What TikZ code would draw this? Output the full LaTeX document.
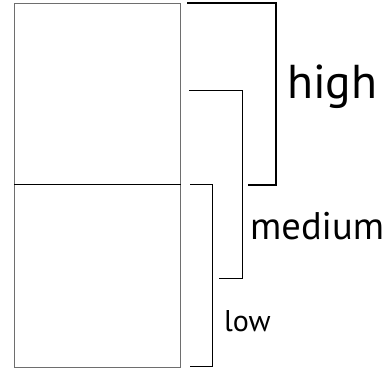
\documentclass[tikz,border=0pt]{standalone}
\usepackage{fontspec}
\setmainfont{PT Sans}
\definecolor{BoxGray}{HTML}{6E6E6E}

\begin{document}
\begin{tikzpicture}[x=1pt,y=1pt,
    level/.style={draw=BoxGray,line width=1pt,minimum width=166.5pt,inner sep=0pt,outer sep=0pt},
    bracket/.style={line width=0.9pt},
    tag/.style={anchor=base west,inner sep=0pt}]
            \useasboundingbox (0,0) rectangle (389,368);

            \node[level,minimum height=181pt] (upper) at (97.25,274.5){};
            \node[level,minimum height=183pt] (lower) at (97.25,92.5){};
            \draw[line width=0.9pt] (upper.south west)--(upper.south east);

            \draw[bracket,line width=1.6pt] (187,365.3)--(276,365.3)--(276,183)--(248,183);
            \node[tag,font=\fontsize{47.5}{55}\selectfont] (high) at (287,270){high};

            \draw[bracket] (189,278)--(242,278)--(242,90)--(219,90);
            \node[tag,font=\fontsize{38.5}{45}\selectfont] (medium) at (250,129){medium};

            \draw[bracket] (190,184)--(212,184)--(212,2)--(190,2);
            \node[tag,font=\fontsize{30}{36}\selectfont] (low) at (224,37){low};
\end{tikzpicture}
\end{document}
